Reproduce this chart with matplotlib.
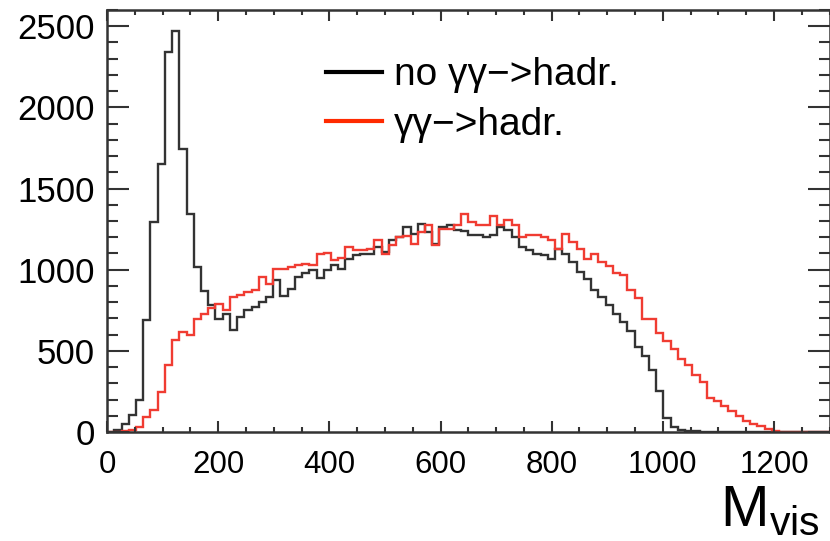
import numpy as np
from matplotlib import pyplot as plt
from matplotlib.lines import Line2D
from matplotlib.ticker import MultipleLocator

plt.rcParams['font.family'] = ['Liberation Sans', 'DejaVu Sans']

# histogram binning: 100 bins of 13 between 0 and 1300
bin_edges = np.arange(0, 1301, 13)

# no gamma gamma -> hadrons
counts_no_gg = [
    0, 10, 49, 105, 197, 689, 1293, 1654, 2340, 2472,
    1745, 1345, 1017, 870, 785, 695, 730, 630, 709, 750,
    771, 800, 832, 935, 840, 884, 955, 980, 1000, 950,
    1000, 1030, 1005, 1068, 1089, 1099, 1099, 1140, 1109, 1181,
    1201, 1263, 1222, 1283, 1232, 1160, 1263, 1273, 1242, 1240,
    1212, 1212, 1201, 1212, 1263, 1242, 1201, 1140, 1119, 1099,
    1089, 1068, 1130, 1099, 1048, 986, 945, 873, 832, 781,
    730, 679, 620, 525, 470, 381, 250, 86, 33, 12,
    6, 4, 3, 2, 2, 1, 1, 1, 1, 0,
    0, 0, 0, 0, 0, 0, 0, 0, 0, 0,
]

# with gamma gamma -> hadrons
counts_gg = [
    0, 3, 8, 15, 33, 94, 135, 248, 412, 566,
    617, 597, 699, 730, 761, 791, 750, 832, 842, 863,
    873, 955, 914, 1006, 1006, 1017, 1027, 1037, 1027, 1099,
    1105, 1058, 1070, 1140, 1119, 1119, 1125, 1181, 1099, 1150,
    1201, 1210, 1160, 1230, 1273, 1150, 1253, 1253, 1273, 1345,
    1294, 1273, 1273, 1328, 1273, 1304, 1273, 1201, 1212, 1212,
    1201, 1181, 1130, 1222, 1171, 1130, 1068, 1099, 1050, 1020,
    980, 965, 873, 825, 699, 699, 607, 560, 510, 450,
    410, 350, 310, 211, 190, 160, 129, 98, 68, 51,
    37, 20, 5, 0, 0, 0, 0, 0, 0, 0,
]

black = '#333333'
red = '#f03c32'

fig = plt.figure(figsize=(8.3, 5.41), dpi=100)
ax = fig.add_axes([0.129, 0.2015, 0.8705, 0.78])

ax.stairs(counts_no_gg, bin_edges, color=black, linewidth=1.7)
ax.stairs(counts_gg, bin_edges, color=red, linewidth=1.7)

ax.set_xlim(0, 1300)
ax.set_ylim(0, 2600)
ax.xaxis.set_major_locator(MultipleLocator(200))
ax.xaxis.set_minor_locator(MultipleLocator(50))
ax.yaxis.set_major_locator(MultipleLocator(500))
ax.yaxis.set_minor_locator(MultipleLocator(100))

ax.tick_params(axis='both', which='both', direction='in', top=True, right=True,
               color=black, width=1.5)
ax.tick_params(axis='x', which='major', length=8, labelsize=22.5, pad=13)
ax.tick_params(axis='x', which='minor', length=3.6)
ax.tick_params(axis='y', which='major', length=16, labelsize=25, pad=9)
ax.tick_params(axis='y', which='minor', length=8)
for s in ax.spines.values():
    s.set_linewidth(1.8)
    s.set_color(black)

handles = [Line2D([], [], color='black', linewidth=3),
           Line2D([], [], color='#ff2a00', linewidth=3)]
ax.legend(handles, ['no γγ−>hadr.', 'γγ−>hadr.'], loc='upper left',
          bbox_to_anchor=(0.303, 0.888), frameon=False, fontsize=28,
          handlelength=1.45, handletextpad=0.3, labelspacing=0.35,
          borderpad=0, borderaxespad=0)

fig.text(0.988, 0.006, 'M$_\\mathregular{vis}$', ha='right', va='bottom', fontsize=42)

plt.savefig('out.png', dpi=100)
